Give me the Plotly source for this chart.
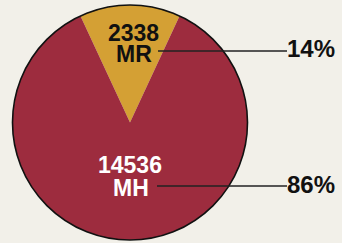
import plotly.graph_objects as go

# ---- data ----
categories = ["MR", "MH"]
counts = [2338, 14536]
percent_labels = ["14%", "86%"]
slice_colors = ["#d4a034", "#9d2c3e"]
label_colors = ["#111111", "#ffffff"]

# ---- layout helpers (pixel -> paper) ----
W, H = 342, 243
def px(x):
    return x / W
def py(y):
    return (H - y) / H

CX, CY, R = 130, 122.5, 117.5
BG = "#f2f0e9"

total = sum(counts)
first_angle = counts[0] / total * 360.0

fig = go.Figure()
fig.add_trace(go.Pie(
    labels=categories,
    values=counts,
    sort=False,
    direction="clockwise",
    rotation=-first_angle / 2,
    marker=dict(colors=slice_colors, line=dict(width=0)),
    textinfo="none",
    hoverinfo="skip",
    showlegend=False,
    domain=dict(x=[px(CX - R), px(CX + R)], y=[py(CY + R), py(CY - R)]),
))

# outer outline
fig.add_shape(type="circle", xref="paper", yref="paper",
              x0=px(CX - R), x1=px(CX + R), y0=py(CY + R), y1=py(CY - R),
              line=dict(color="#111111", width=1.6))

font_family = "Liberation Sans, Arial, sans-serif"
# inner label positions (pixels): (x, y_number, y_name, y_leader, x_leader_start)
label_pos = [(133.5, 33, 54, 51, 158), (130, 165, 187.5, 186, 157)]
LINE_END = 287
PCT_X = 287

for i, (lx, yn, ym, yl, xs) in enumerate(label_pos):
    fig.add_annotation(x=px(lx), y=py(yn), xref="paper", yref="paper",
                       xanchor="center", yanchor="middle",
                       text=f"{counts[i]}", showarrow=False,
                       font=dict(family=font_family, size=23, color=label_colors[i], weight="bold"))
    fig.add_annotation(x=px(lx + 0.5), y=py(ym), xref="paper", yref="paper",
                       xanchor="center", yanchor="middle",
                       text=categories[i], showarrow=False,
                       font=dict(family=font_family, size=23, color=label_colors[i], weight="bold"))
    fig.add_shape(type="line", xref="paper", yref="paper",
                  x0=px(xs), x1=px(LINE_END), y0=py(yl), y1=py(yl),
                  line=dict(color="#222222", width=1.5))
    fig.add_annotation(x=px(PCT_X - 2), y=py(yl - 2), xref="paper", yref="paper",
                       xanchor="left", yanchor="middle", text=percent_labels[i], showarrow=False,
                       font=dict(family=font_family, size=24, color="#111111", weight="bold"))

fig.update_layout(
    width=W, height=H,
    margin=dict(l=0, r=0, t=0, b=0),
    paper_bgcolor=BG, plot_bgcolor=BG,
    hovermode=False,
)

fig.write_html(
    "out.html",
    config={"displayModeBar": False},
    post_script="document.body.style.margin='0';document.body.style.overflow='hidden';document.body.style.background='%s';" % BG,
)
